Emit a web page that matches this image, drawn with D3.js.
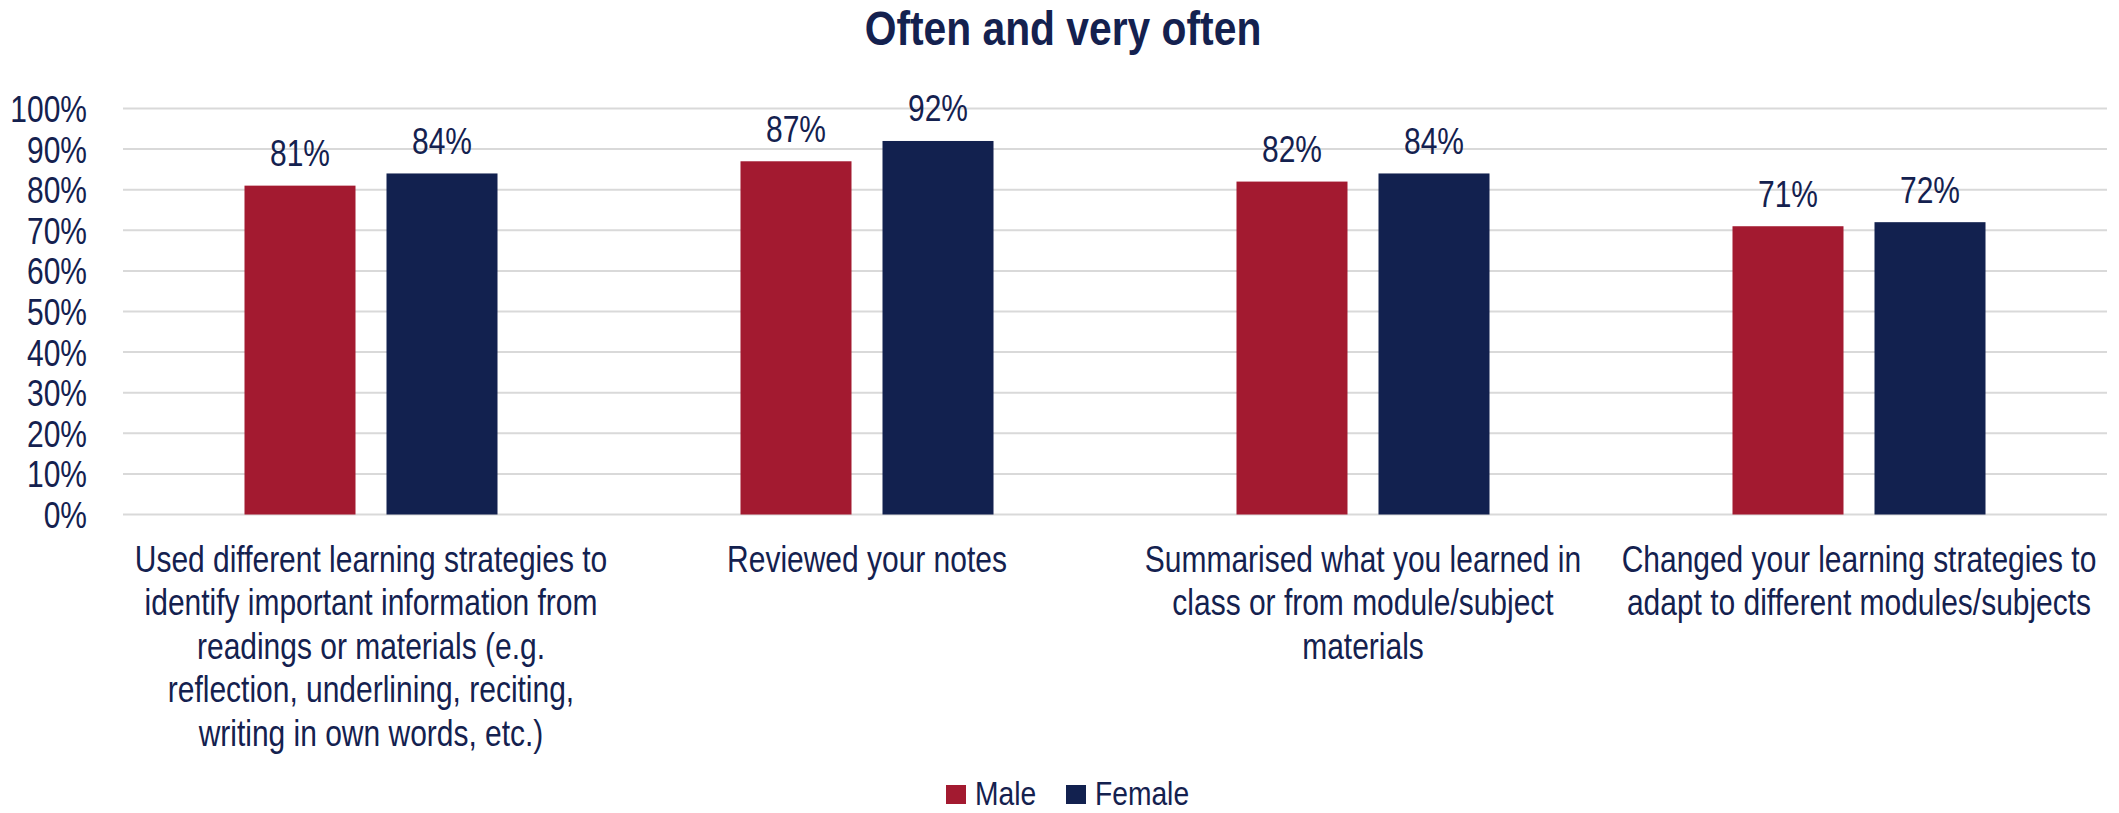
<!DOCTYPE html>
<html>
<head>
<meta charset="utf-8">
<script src="https://cdn.jsdelivr.net/npm/d3@7"></script>
<style>
  html, body { margin: 0; padding: 0; background: #ffffff; }
  svg { display: block; }
  text { font-family: "Liberation Sans", Arial, sans-serif; fill: #14214f; }
</style>
</head>
<body>
<svg id="chart" width="2119" height="813"></svg>
<script>
// Survey results: share answering "often" or "very often", by gender
const title = "Often and very often";
const categories = [
  "Used different learning strategies to identify important information from readings or materials (e.g. reflection, underlining, reciting, writing in own words, etc.)",
  "Reviewed your notes",
  "Summarised what you learned in class or from module/subject materials",
  "Changed your learning strategies to adapt to different modules/subjects"
];
// Line breaks used for each category label
const categoryLines = [
  ["Used different learning strategies to", "identify important information from", "readings or materials (e.g.", "reflection, underlining, reciting,", "writing in own words, etc.)"],
  ["Reviewed your notes"],
  ["Summarised what you learned in", "class or from module/subject", "materials"],
  ["Changed your learning strategies to", "adapt to different modules/subjects"]
];
const seriesNames = ["Male", "Female"];
const maleValues = [0.81, 0.87, 0.82, 0.71];
const femaleValues = [0.84, 0.92, 0.84, 0.72];
const yTicks = [0, 0.1, 0.2, 0.3, 0.4, 0.5, 0.6, 0.7, 0.8, 0.9, 1.0];

const colors = { Male: "#a31a30", Female: "#12214f" };
const textColor = "#14214f";
const squeeze = 0.81; // condensed text width

const svg = d3.select("#chart");
const plot = { left: 123, right: 2107, top: 108.5, bottom: 514.5 };

const x = d3.scaleBand()
  .domain(categories)
  .range([plot.left, plot.right])
  .padding(0);

const xInner = d3.scaleBand()
  .domain(seriesNames)
  .range([0, x.bandwidth()])
  .paddingInner(0.2183)
  .paddingOuter(0.8556);

const y = d3.scaleLinear().domain([0, 1]).range([plot.bottom, plot.top]);

// helper: condensed text positioned at (px, py)
function squeezedText(sel, px, py, k = squeeze) {
  return sel.attr("transform", `translate(${px},${py}) scale(${k},1)`);
}

// gridlines
svg.append("g")
  .selectAll("line")
  .data(yTicks)
  .join("line")
  .attr("x1", plot.left)
  .attr("x2", plot.right)
  .attr("y1", d => y(d))
  .attr("y2", d => y(d))
  .attr("stroke", "#d9d9d9")
  .attr("stroke-width", 2);

// y axis labels
const yAxis = d3.axisLeft(y)
  .tickValues(yTicks)
  .tickFormat(d3.format(".0%"))
  .tickSize(0)
  .tickPadding(0);

const yg = svg.append("g")
  .attr("transform", `translate(${plot.left},0)`)
  .call(yAxis);
yg.select(".domain").remove();
yg.selectAll(".tick text")
  .attr("x", null)
  .attr("dy", null)
  .attr("transform", `translate(-36,13) scale(${squeeze},1)`)
  .attr("text-anchor", "end")
  .style("font-family", "'Liberation Sans', Arial, sans-serif")
  .style("font-size", "37px")
  .attr("fill", textColor);

// bars
const rows = categories.map((c, i) => ({
  category: c,
  values: [
    { series: "Male", value: maleValues[i] },
    { series: "Female", value: femaleValues[i] }
  ]
}));

const groups = svg.append("g")
  .selectAll("g")
  .data(rows)
  .join("g")
  .attr("transform", d => `translate(${x(d.category)},0)`);

groups.selectAll("rect")
  .data(d => d.values)
  .join("rect")
  .attr("x", d => xInner(d.series))
  .attr("y", d => y(d.value))
  .attr("width", xInner.bandwidth())
  .attr("height", d => y(0) - y(d.value))
  .attr("fill", d => colors[d.series]);

// value labels
groups.selectAll("text.value")
  .data(d => d.values)
  .join("text")
  .attr("class", "value")
  .attr("text-anchor", "middle")
  .style("font-size", "37px")
  .each(function (d) {
    squeezedText(d3.select(this), xInner(d.series) + xInner.bandwidth() / 2, y(d.value) - 19.5);
  })
  .text(d => d3.format(".0%")(d.value));

// category labels
categories.forEach((c, i) => {
  const cx = x(c) + x.bandwidth() / 2;
  const t = svg.append("text")
    .attr("text-anchor", "middle")
    .style("font-size", "37px");
  squeezedText(t, cx, 572);
  t.selectAll("tspan")
    .data(categoryLines[i])
    .join("tspan")
    .attr("x", 0)
    .attr("y", (d, j) => j * 43.5)
    .text(d => d);
});

// title
const tt = svg.append("text")
  .attr("text-anchor", "middle")
  .style("font-size", "48px")
  .style("font-weight", "bold")
  .text(title);
squeezedText(tt, 1063, 45, 0.85);

// legend
const legendItems = [
  { name: "Male", sx: 946, tx: 975 },
  { name: "Female", sx: 1066, tx: 1095 }
];
const lg = svg.append("g");
lg.selectAll("rect")
  .data(legendItems)
  .join("rect")
  .attr("x", d => d.sx)
  .attr("y", 785)
  .attr("width", 20)
  .attr("height", 19)
  .attr("fill", d => colors[d.name]);
lg.selectAll("text")
  .data(legendItems)
  .join("text")
  .style("font-size", "34px")
  .each(function (d) { squeezedText(d3.select(this), d.tx, 805, 0.83); })
  .text(d => d.name);
</script>
</body>
</html>
